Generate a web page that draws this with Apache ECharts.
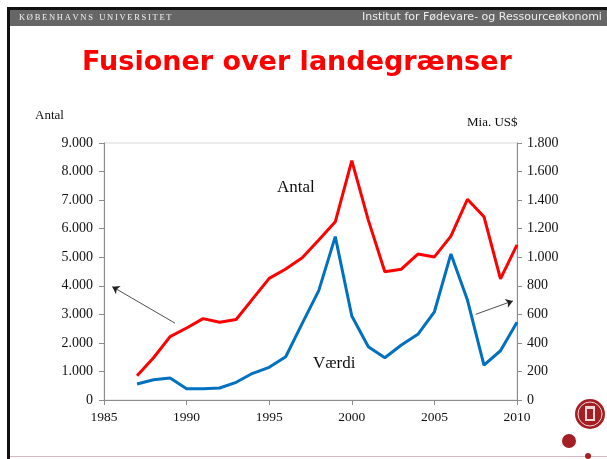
<!DOCTYPE html>
<html><head><meta charset="utf-8">
<script src="https://cdn.jsdelivr.net/npm/echarts@6/dist/echarts.min.js"></script>
<style>html,body{margin:0;padding:0;background:#fff}#c{width:607px;height:459px}</style>
</head><body><div id="c"></div>
<script>
const years = [1987,1988,1989,1990,1991,1992,1993,1994,1995,1996,1997,1998,1999,2000,2001,2002,2003,2004,2005,2006,2007,2008,2009,2010];
const antal = [850,1480,2220,2520,2850,2720,2820,3540,4260,4590,4980,5600,6240,8380,6300,4490,4580,5110,5010,5740,7030,6420,4240,5430];
const vaerdi = [112,142,154,79,79,84,124,187,229,303,537,766,1144,588,373,296,385,460,618,1023,700,245,345,544];
const leftTitle = 'Antal';
const rightTitle = 'Mia. US$';
const title = 'Fusioner over landegrænser';
const arrowLeft = [[1989.3, 2690], [1985.5, 3970]];
const arrowRight = [[2007.5, 3000], [2009.75, 3470]];

const fmt = v => String(v).replace(/\B(?=(\d{3})+(?!\d))/g, '.');
const chart = echarts.init(document.getElementById('c'));
const serif = '"Liberation Serif","DejaVu Serif",serif';
const axisGray = '#8c8c8c';
const ts = '\u2009';
const uni = 'KØBENHAVNS'.split('').join(ts) + '   ' + 'UNIVERSITET'.split('').join(ts);
chart.setOption({
  animation: false,
  backgroundColor: '#fff',
  grid: {left: 104, right: 90, top: 143, bottom: 59, show: true, borderColor: '#d9d9d9', borderWidth: 1, backgroundColor: 'transparent'},
  xAxis: {type: 'value', min: 1985, max: 2010, interval: 5,
    axisLine: {lineStyle: {color: axisGray}}, axisTick: {show: true, length: 5, lineStyle: {color: axisGray}},
    splitLine: {show: false},
    axisLabel: {color: '#111', fontFamily: serif, fontSize: 13.5, margin: 10, formatter: v => String(v)}},
  yAxis: [
    {type: 'value', min: 0, max: 9000, interval: 1000, position: 'left',
     axisLine: {show: true, lineStyle: {color: axisGray}}, axisTick: {show: true, length: 5, lineStyle: {color: axisGray}},
     splitLine: {show: false},
     axisLabel: {color: '#111', fontFamily: serif, fontSize: 14, margin: 11, formatter: fmt}},
    {type: 'value', min: 0, max: 1800, interval: 200, position: 'right',
     axisLine: {show: true, lineStyle: {color: axisGray}}, axisTick: {show: true, length: 5, lineStyle: {color: axisGray}},
     splitLine: {show: false},
     axisLabel: {color: '#111', fontFamily: serif, fontSize: 14, margin: 10, formatter: fmt}}
  ],
  series: [
    {type: 'line', name: 'Antal', yAxisIndex: 0, data: years.map((y, i) => [y, antal[i]]),
     symbol: 'none', lineStyle: {color: '#ff0000', width: 3}, itemStyle: {color: '#ff0000'},
     markLine: {silent: true, symbol: ['none', 'arrow'], symbolSize: 7, label: {show: false},
       lineStyle: {color: '#222', width: 0.8, type: 'solid'},
       data: [[{coord: arrowLeft[0]}, {coord: arrowLeft[1]}], [{coord: arrowRight[0]}, {coord: arrowRight[1]}]]}},
    {type: 'line', name: 'Værdi', yAxisIndex: 1, data: years.map((y, i) => [y, vaerdi[i]]),
     symbol: 'none', lineStyle: {color: '#0070c0', width: 3}, itemStyle: {color: '#0070c0'}}
  ],
  graphic: [
    {type: 'rect', shape: {x: 7, y: 7, width: 600, height: 3}, style: {fill: '#111'}},
    {type: 'rect', shape: {x: 7, y: 7, width: 3, height: 452}, style: {fill: '#111'}},
    {type: 'rect', shape: {x: 10, y: 10, width: 597, height: 16}, style: {fill: '#666666'}},
    {type: 'text', left: 19, top: 13, style: {text: uni, fill: '#f2f2f2', font: '8.5px ' + serif}},
    {type: 'text', left: 362, top: 12, style: {text: 'Institut for Fødevare- og Ressourceøkonomi', fill: '#eeeeee', font: '11px "DejaVu Sans",sans-serif'}},
    {type: 'text', left: 82, top: 49, style: {text: title, fill: '#ff0000', font: 'bold 27px "DejaVu Sans",Verdana,sans-serif'}},
    {type: 'text', left: 35, top: 109, style: {text: leftTitle, fill: '#111', font: '13px ' + serif}},
    {type: 'text', left: 467, top: 116, style: {text: rightTitle, fill: '#111', font: '13px ' + serif}},
    {type: 'text', left: 277, top: 179, style: {text: 'Antal', fill: '#111', font: '17px ' + serif}},
    {type: 'text', left: 313, top: 355, style: {text: 'Værdi', fill: '#111', font: '17px ' + serif}},
    {type: 'rect', shape: {x: 10, y: 456, width: 597, height: 1}, style: {fill: '#d8b8c0'}},
    {type: 'circle', shape: {cx: 590, cy: 414, r: 15}, style: {fill: '#a31f24'}},
    {type: 'circle', shape: {cx: 590, cy: 414, r: 12}, style: {fill: 'none', stroke: '#f3d6d6', lineWidth: 1}},
    {type: 'rect', shape: {x: 585, y: 406, width: 10, height: 15}, style: {fill: '#f3d6d6'}},
    {type: 'rect', shape: {x: 587, y: 409, width: 6, height: 10}, style: {fill: '#a31f24'}},
    {type: 'circle', shape: {cx: 569, cy: 441, r: 7}, style: {fill: '#a31f24'}},
    {type: 'circle', shape: {cx: 588, cy: 456, r: 3}, style: {fill: '#a31f24'}}
  ]
});
</script></body></html>
